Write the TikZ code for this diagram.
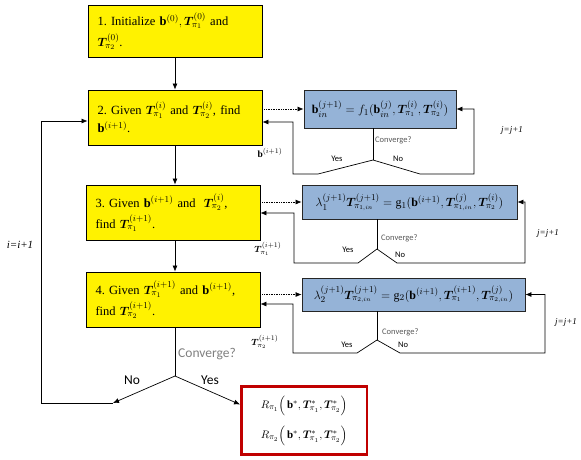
\documentclass[tikz,border=0pt]{standalone}
\usepackage{amsmath,bm}
\usepackage{fontspec}
\setmainfont{Liberation Serif}
\setsansfont{Carlito}
\usetikzlibrary{arrows.meta}
\DeclareMathSizes{12.5}{12.5}{9.2}{7}
\DeclareMathSizes{12}{12}{8.6}{6.5}
\DeclareMathSizes{11}{11}{8}{6}
\definecolor{bluefill}{HTML}{95B3D7}
\definecolor{resred}{HTML}{C00000}
\definecolor{cvgray}{HTML}{7F7F7F}
\definecolor{cvsmall}{HTML}{595959}
\newcommand{\Tb}{\bm{T}}
\frenchspacing
\begin{document}
\begin{tikzpicture}[x=1pt,y=-1pt,
  ybox/.style={draw=black, fill=yellow, line width=0.8pt, text width=155pt, inner xsep=9.5pt,
    minimum height=55pt, align=left, font=\fontsize{12.5}{21}\selectfont},
  bbox/.style={draw=black!85, fill=bluefill, line width=0.8pt, inner sep=0pt, font=\fontsize{12}{14}\selectfont},
  arr/.style={-{Latex[length=6pt,width=5pt]}, line width=0.7pt},
  ln/.style={line width=0.7pt},
  dotarr/.style={arr, densely dotted},
  cvs/.style={font=\sffamily\fontsize{8.5}{10}\selectfont, text=cvsmall, anchor=west, inner sep=0pt},
  yns/.style={font=\sffamily\fontsize{8.5}{10}\selectfont, inner sep=0pt},
  ynm/.style={font=\sffamily\fontsize{13.5}{14}\selectfont, inner sep=0pt},
  jlab/.style={font=\itshape\fontsize{9}{10}\selectfont, inner sep=0pt},
  vlab/.style={font=\fontsize{9.5}{10}\selectfont, inner sep=0pt}]
\useasboundingbox (0,0) rectangle (581,459);

% main yellow boxes
\node[ybox, minimum height=52pt] (s1) at (175,31) {1. Initialize $\mathbf{b}^{(0)},\Tb^{(0)}_{\pi_1}$ and\\ $\Tb^{(0)}_{\pi_2}$.};
\node[ybox, font=\fontsize{12.5}{18}\selectfont] (s2) at (175,117.5) {2. Given $\Tb^{(i)}_{\pi_1}$ and $\Tb^{(i)}_{\pi_2}$, find\\ $\mathbf{b}^{(i+1)}$.};
\node[ybox] (s3) at (173,212.5) {3. Given $\mathbf{b}^{(i+1)}$ and\ \ $\Tb^{(i)}_{\pi_2}$,\\ find $\Tb^{(i+1)}_{\pi_1}$.};
\node[ybox] (s4) at (173,299.5) {4. Given $\Tb^{(i+1)}_{\pi_1}$ and $\mathbf{b}^{(i+1)}$,\\ find $\Tb^{(i+1)}_{\pi_2}$.};

% blue boxes
\node[bbox, minimum width=152pt, minimum height=38pt] (b1) at (380,109)
  {$\mathbf{b}^{(j+1)}_{in} = f_1(\mathbf{b}^{(j)}_{in},\Tb^{(i)}_{\pi_1},\Tb^{(i)}_{\pi_2})$};
\node[bbox, minimum width=215pt, minimum height=34pt] (b2) at (409.5,202)
  {$\lambda_1^{(j+1)}\Tb^{(j+1)}_{\pi_{1,in}} = \mathrm{g}_1(\mathbf{b}^{(i+1)},\Tb^{(j)}_{\pi_{1,in}},\Tb^{(i)}_{\pi_2})$};
\node[bbox, minimum width=223pt, minimum height=33pt] (b3) at (413.5,294.5)
  {$\lambda_2^{(j+1)}\Tb^{(j+1)}_{\pi_{2,in}} = \mathrm{g}_2(\mathbf{b}^{(i+1)},\Tb^{(i+1)}_{\pi_1},\Tb^{(j)}_{\pi_{2,in}})$};

% result box
\node[draw=resred, line width=2.5pt, minimum width=125.5pt, minimum height=68pt, align=center,
  font=\fontsize{11}{30}\selectfont] (res) at (304,420.5)
  {$R_{\pi_1}\Bigl(\,\mathbf{b}^*,\Tb^*_{\pi_1},\Tb^*_{\pi_2}\Bigr)$\\ $R_{\pi_2}\Bigl(\,\mathbf{b}^*,\Tb^*_{\pi_1},\Tb^*_{\pi_2}\Bigr)$};

% main vertical flow
\draw[arr] (s1.south) -- (s2.north);
\draw[arr] (s2.south) -- (s2.south |- s3.north);
\draw[arr] (s3.south -| s2.south) -- (s2.south |- s4.north);

% main convergence
\coordinate (j0) at (175,376);
\coordinate (nl) at (113,403);
\coordinate (ll) at (41,403);
\draw[ln] (s4.south -| j0) -- (j0);
\draw[arr] (j0) -- (nl);
\draw[arr] (j0) -- ([yshift=16pt]res.west);
\draw[arr] (nl) -- (ll) |- ([yshift=-3.5pt]s2.west);

% loop 1
\coordinate (c1) at (373,160);
\draw[dotarr] (b1.west -| s2.east) -- (b1.west);
\draw[ln] (c1 |- b1.south) -- (c1);
\draw[arr] (c1) -- ++(-55,14) -| (293,122) -- ([yshift=-4.5pt]s2.east);
\draw[arr] (c1) -- ++(47,14) -- (474,174) |- (b1.east);

% loop 2
\coordinate (c2) at (377,249);
\draw[dotarr] (b2.west -| s3.east) -- (b2.west);
\draw[ln] (c2 |- b2.south) -- (c2);
\draw[arr] (c2) -- ++(-19,14) -| (294,213) -- ([yshift=-0.5pt]s3.east);
\draw[arr] (c2) -- ++(20,14) -- (525,263) |- (b2.east);

% loop 3
\coordinate (c3) at (377,340);
\draw[dotarr] (b3.west -| s4.east) -- (b3.west);
\draw[ln] (c3 |- b3.south) -- (c3);
\draw[arr] (c3) -- ++(-20,13) -| (293,304) -- ([yshift=-4.5pt]s4.east);
\draw[arr] (c3) -- ++(23,13) -- (545,353) |- (b3.east);

% labels
\node[font=\sffamily\fontsize{13.5}{14}\selectfont, text=cvgray, anchor=west, inner sep=0pt] (cvm) at (178,354) {Converge?};
\node[ynm] (nom) at (132,380) {No};
\node[ynm] (yesm) at (210,380) {Yes};
\node[font=\itshape\fontsize{11}{12}\selectfont, inner sep=0pt] (iloop) at (20,245) {i=i+1};

\node[cvs] (cv1) at (375,140) {Converge?};
\node[yns] (y1) at (337,159) {Yes};
\node[yns] (n1) at (398,159) {No};
\node[jlab] (jl1) at (512,130) {j=j+1};
\node[vlab] (bl) at (270,153) {$\mathbf{b}^{(i+1)}$};

\node[cvs] (cv2) at (381,238) {Converge?};
\node[yns] (y2) at (348,250) {Yes};
\node[yns] (n2) at (400,255) {No};
\node[jlab] (jl2) at (548,233) {j=j+1};
\node[vlab] (t1l) at (268,249) {$\Tb^{(i+1)}_{\pi_1}$};

\node[cvs] (cv3) at (382,332) {Converge?};
\node[yns] (y3) at (347,345) {Yes};
\node[yns] (n3) at (403,345) {No};
\node[jlab] (jl3) at (566,322) {j=j+1};
\node[vlab] (t2l) at (265,342) {$\Tb^{(i+1)}_{\pi_2}$};
\end{tikzpicture}
\end{document}
